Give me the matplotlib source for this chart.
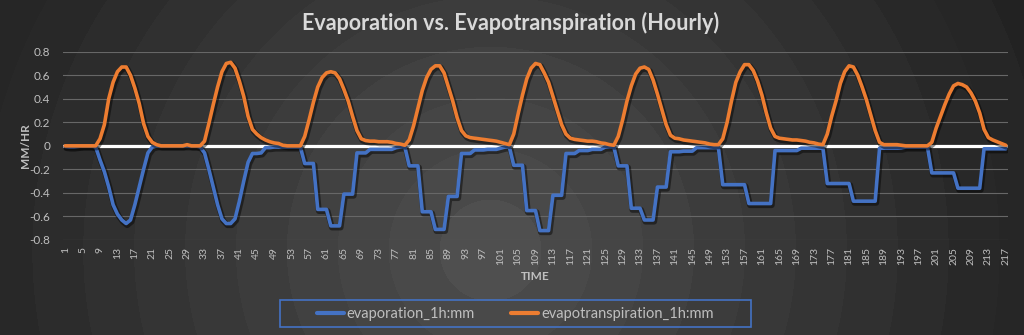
import numpy as np
import matplotlib
matplotlib.use("Agg")
import matplotlib.pyplot as plt
import matplotlib.patheffects as pe
from matplotlib.patches import Rectangle

# ---------------- data ----------------
hours = list(range(1, 218))

evaporation = [
    # 1-24
    -0.005, -0.01, -0.01, -0.005, 0, 0, 0, -0.01,
    -0.12, -0.22, -0.35, -0.5, -0.58, -0.63, -0.66, -0.63,
    -0.5, -0.35, -0.2, -0.06, -0.01, 0, 0, 0,
    # 25-48
    0, 0, 0, 0, 0, 0, 0, -0.01,
    -0.06, -0.2, -0.35, -0.5, -0.62, -0.66, -0.66, -0.62,
    -0.47, -0.3, -0.14, -0.065, -0.065, -0.06, -0.015, -0.015,
    # 49-72
    -0.01, -0.01, -0.01, -0.01, -0.01, -0.01, -0.01, -0.15,
    -0.15, -0.15, -0.54, -0.54, -0.54, -0.68, -0.68, -0.68,
    -0.41, -0.41, -0.41, -0.06, -0.06, -0.06, -0.03, -0.03,
    # 73-96
    -0.03, -0.03, -0.03, -0.03, -0.015, -0.01, -0.01, -0.17,
    -0.17, -0.17, -0.56, -0.56, -0.56, -0.71, -0.71, -0.71,
    -0.43, -0.43, -0.43, -0.065, -0.065, -0.065, -0.035, -0.035,
    # 97-120
    -0.035, -0.03, -0.03, -0.03, -0.02, -0.01, -0.01, -0.165,
    -0.165, -0.165, -0.55, -0.55, -0.55, -0.72, -0.72, -0.72,
    -0.42, -0.42, -0.42, -0.065, -0.065, -0.065, -0.04, -0.04,
    # 121-144
    -0.04, -0.03, -0.03, -0.03, -0.01, -0.01, -0.01, -0.17,
    -0.17, -0.17, -0.53, -0.53, -0.53, -0.63, -0.63, -0.63,
    -0.35, -0.35, -0.35, -0.05, -0.05, -0.05, -0.045, -0.045,
    # 145-168
    -0.045, -0.015, -0.015, -0.015, -0.015, -0.015, -0.015, -0.33,
    -0.33, -0.33, -0.33, -0.33, -0.33, -0.49, -0.49, -0.49,
    -0.49, -0.49, -0.49, -0.04, -0.04, -0.04, -0.04, -0.04,
    # 169-192
    -0.04, -0.02, -0.02, -0.02, -0.02, -0.02, -0.02, -0.32,
    -0.32, -0.32, -0.32, -0.32, -0.32, -0.47, -0.47, -0.47,
    -0.47, -0.47, -0.47, -0.02, -0.02, -0.02, -0.02, -0.02,
    # 193-216
    -0.02, -0.01, -0.01, -0.01, -0.01, -0.01, -0.01, -0.23,
    -0.23, -0.23, -0.23, -0.23, -0.23, -0.36, -0.36, -0.36,
    -0.36, -0.36, -0.36, -0.025, -0.025, -0.025, -0.025, -0.025,
    # 217
    -0.025,
]

evapotranspiration = [
    # 1-24
    0, 0, 0, 0, 0, 0, 0, 0,
    0.06, 0.18, 0.4, 0.54, 0.63, 0.67, 0.67, 0.6,
    0.49, 0.36, 0.19, 0.08, 0.03, 0.01, 0, 0,
    # 25-48
    0, 0, 0, 0, 0.01, 0, 0, 0,
    0.04, 0.19, 0.35, 0.5, 0.63, 0.70, 0.71, 0.66,
    0.55, 0.42, 0.25, 0.14, 0.1, 0.07, 0.05, 0.035,
    # 49-72
    0.025, 0.02, 0.005, 0, 0, 0, 0, 0.08,
    0.22, 0.37, 0.5, 0.58, 0.62, 0.63, 0.62, 0.57,
    0.48, 0.38, 0.25, 0.13, 0.06, 0.045, 0.04, 0.04,
    # 73-96
    0.035, 0.035, 0.035, 0.03, 0.02, 0.015, 0.005, 0.05,
    0.17, 0.32, 0.47, 0.58, 0.65, 0.68, 0.68, 0.62,
    0.5, 0.38, 0.24, 0.13, 0.085, 0.07, 0.065, 0.06,
    # 97-120
    0.055, 0.05, 0.045, 0.04, 0.03, 0.02, 0.01, 0.1,
    0.27, 0.43, 0.57, 0.66, 0.70, 0.69, 0.62, 0.54,
    0.42, 0.3, 0.18, 0.1, 0.065, 0.055, 0.05, 0.045,
    # 121-144
    0.04, 0.04, 0.035, 0.025, 0.02, 0.01, 0.005, 0.08,
    0.22, 0.38, 0.51, 0.61, 0.66, 0.67, 0.65, 0.56,
    0.44, 0.31, 0.18, 0.09, 0.065, 0.06, 0.05, 0.045,
    # 145-168
    0.04, 0.035, 0.03, 0.025, 0.015, 0.01, 0.01, 0.06,
    0.2, 0.38, 0.54, 0.63, 0.69, 0.69, 0.64, 0.55,
    0.43, 0.28, 0.15, 0.08, 0.065, 0.06, 0.055, 0.05,
    # 169-192
    0.05, 0.045, 0.04, 0.03, 0.025, 0.015, 0.01, 0.1,
    0.25, 0.38, 0.53, 0.63, 0.68, 0.67, 0.6, 0.5,
    0.39, 0.26, 0.13, 0.03, 0.01, 0.01, 0.01, 0.01,
    # 193-216
    0.005, 0, 0, 0, 0, 0, 0, 0.03,
    0.15, 0.25, 0.35, 0.44, 0.51, 0.53, 0.52, 0.5,
    0.45, 0.38, 0.28, 0.14, 0.07, 0.05, 0.035, 0.02,
    # 217
    0.005,
]

series_names = ["evaporation_1h:mm", "evapotranspiration_1h:mm"]
y_ticks = [-0.8, -0.6, -0.4, -0.2, 0, 0.2, 0.4, 0.6, 0.8]
y_tick_labels = ["-0.8", "-0.6", "-0.4", "-0.2", "0", "0.2", "0.4", "0.6", "0.8"]
x_tick_positions = list(range(1, 218, 4))
x_tick_labels = [str(v) for v in x_tick_positions]
title_text = "Evaporation vs. Evapotranspiration (Hourly)"
x_label = "TIME"
y_label = "MM/HR"

# ---------------- style ----------------
W, H, DPI = 1024, 335, 100
BLUE = "#4472C4"
ORANGE = "#ED7D31"
TXT = "#bfbfbf"
FONT = "Lato"

plt.rcParams["font.family"] = [FONT, "DejaVu Sans"]
plt.rcParams["axes.unicode_minus"] = False

fig = plt.figure(figsize=(W / DPI, H / DPI), dpi=DPI)

# background radial gradient with visible banding
bg = fig.add_axes([0, 0, 1, 1], zorder=-10)
yy, xx = np.mgrid[0:H, 0:W]
cx, cy = 490.0, 250.0
d = np.sqrt((xx - cx) ** 2 + ((yy - cy) * 1.0) ** 2)
t = np.clip(d / 560.0, 0, 1)
t = np.floor(t * 11) / 11
c_in, c_out = 0.31, 0.135
img = c_in - (c_in - c_out) * t ** 0.9
bg.imshow(img, cmap="gray", vmin=0, vmax=1, extent=[0, W, H, 0], aspect="auto",
          interpolation="bilinear")
bg.set_xlim(0, W)
bg.set_ylim(H, 0)
bg.axis("off")

# plot area
L, R, T, B = 63, 1008, 51.7, 240.0
ax = fig.add_axes([L / W, 1 - B / H, (R - L) / W, (B - T) / H])
ax.set_facecolor("none")
ax.set_xlim(0.5, 217.5)
ax.set_ylim(-0.8, 0.8)
for s in ax.spines.values():
    s.set_visible(False)

ax.set_yticks(y_ticks)
ax.set_yticklabels(y_tick_labels)
ax.set_xticks(x_tick_positions)
ax.set_xticklabels(x_tick_labels, rotation=90)
ax.tick_params(axis="both", length=0, colors=TXT)
ax.tick_params(axis="y", labelsize=8.5, pad=9)
ax.tick_params(axis="x", labelsize=7.5, pad=5)

ax.yaxis.grid(True, color="#676767", lw=0.8)
ax.set_axisbelow(True)
ax.axhline(0, color="white", lw=2.3, zorder=1.5)

shadow = [pe.SimpleLineShadow(offset=(0.8, -1.2), shadow_color="black", alpha=0.45,
                              linewidth=4.2), pe.Normal()]
ax.plot(hours, evaporation, color=BLUE, lw=2.6, solid_joinstyle="round",
        solid_capstyle="round", zorder=3, path_effects=shadow, label=series_names[0])
ax.plot(hours, evapotranspiration, color=ORANGE, lw=2.6, solid_joinstyle="round",
        solid_capstyle="round", zorder=4, path_effects=shadow, label=series_names[1])

# texts
fig.text(511 / W, 1 - 23 / H, title_text, ha="center", va="center", fontsize=15.5,
         fontweight="bold", color="#d9d9d9")
fig.text(25 / W, 1 - 146 / H, y_label, rotation=90, ha="center", va="center",
         fontsize=8.5, fontweight="bold", color=TXT)
fig.text((L + R) / 2 / W, 1 - 277 / H, x_label, ha="center", va="center",
         fontsize=8.5, fontweight="bold", color=TXT)

# legend
lx0, lx1, ly0, ly1 = 279.6, 751.0, 300.0, 327.3
fig.add_artist(Rectangle((lx0 / W, 1 - ly1 / H), (lx1 - lx0) / W, (ly1 - ly0) / H,
                         transform=fig.transFigure, fill=False, edgecolor=BLUE, lw=1.2))
handles, labels = ax.get_legend_handles_labels()
leg = fig.legend(handles, labels, loc="center",
                 bbox_to_anchor=((lx0 + lx1) / 2 / W, 1 - (ly0 + ly1) / 2 / H),
                 ncol=2, frameon=False, fontsize=10.5, handlelength=1.85,
                 handletextpad=0.2, columnspacing=2.5, labelcolor=TXT)
for h in leg.get_lines():
    h.set_path_effects([])
    h.set_linewidth(3)

fig.savefig("out.png", dpi=DPI)
